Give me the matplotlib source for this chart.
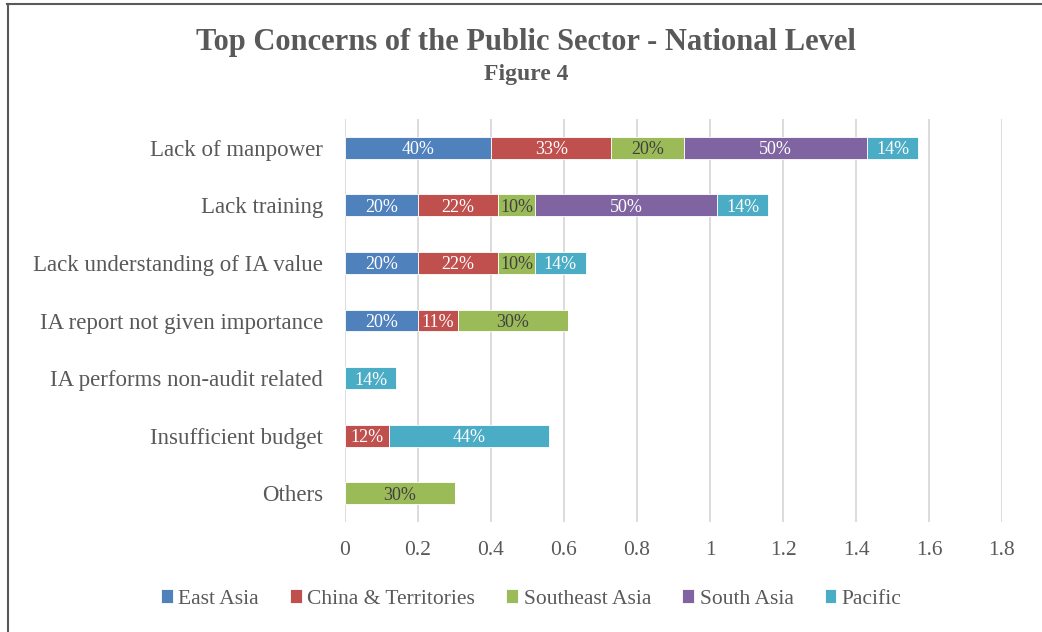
import matplotlib
matplotlib.use("Agg")
import matplotlib.pyplot as plt
from matplotlib.lines import Line2D
import numpy as np

categories = ["Lack of manpower", "Lack training", "Lack understanding of IA value",
              "IA report not given importance", "IA performs non-audit related",
              "Insufficient budget", "Others"]
series_names = ["East Asia", "China & Territories", "Southeast Asia", "South Asia", "Pacific"]
east_asia = [0.40, 0.20, 0.20, 0.20, 0.0, 0.0, 0.0]
china = [0.33, 0.22, 0.22, 0.11, 0.0, 0.12, 0.0]
southeast_asia = [0.20, 0.10, 0.10, 0.30, 0.0, 0.0, 0.30]
south_asia = [0.50, 0.50, 0.0, 0.0, 0.0, 0.0, 0.0]
pacific = [0.14, 0.14, 0.14, 0.0, 0.14, 0.44, 0.0]
x_ticks = [0, 0.2, 0.4, 0.6, 0.8, 1, 1.2, 1.4, 1.6, 1.8]
x_tick_labels = ["0", "0.2", "0.4", "0.6", "0.8", "1", "1.2", "1.4", "1.6", "1.8"]

colors = ["#4F81BD", "#C0504D", "#9BBB59", "#8064A2", "#4BACC6"]
label_colors = ["white", "white", "#404040", "white", "white"]
font = "Liberation Serif"
txt = "#595959"

fig = plt.figure(figsize=(10.42, 6.32), dpi=100)
ax = fig.add_axes([0.3311, 0.174, 0.6305, 0.6377])

y = np.arange(len(categories))
left = np.zeros(len(categories))
for vals, name, c, lc in zip([east_asia, china, southeast_asia, south_asia, pacific],
                             series_names, colors, label_colors):
    vals = np.array(vals)
    bars = ax.barh(y, vals, left=left, height=0.38, color=c, edgecolor="white",
                   linewidth=0.6, label=name, zorder=3)
    for b, v, l in zip(bars, vals, left):
        if v > 0:
            ax.text(l + v / 2, b.get_y() + b.get_height() / 2, f"{v*100:.0f}%",
                    ha="center", va="center_baseline", color=lc, fontsize=13,
                    family=font, zorder=4)
    left = left + vals

ax.set_xlim(0, 1.8)
ax.set_ylim(6.5, -0.5)
ax.set_xticks(x_ticks)
ax.set_xticklabels(x_tick_labels)
ax.set_yticks(y)
ax.set_yticklabels(categories)
ax.tick_params(axis="x", length=0, colors=txt, labelsize=15.5, pad=14)
ax.tick_params(axis="y", length=0, colors=txt, labelsize=16.5, pad=16)
for lab in ax.get_xticklabels() + ax.get_yticklabels():
    lab.set_family(font)
    lab.set_color(txt)
ax.grid(axis="x", color="#D9D9D9", linewidth=1.3, zorder=0)
for s in ax.spines.values():
    s.set_visible(False)

fig.text(0.505, 0.933, "Top Concerns of the Public Sector - National Level", ha="center",
         va="center", fontsize=22, fontweight="bold", color=txt, family=font)
fig.text(0.505, 0.882, "Figure 4", ha="center", va="center", fontsize=17,
         fontweight="bold", color=txt, family=font)

leg = fig.legend(loc="center", bbox_to_anchor=(0.51, 0.052), ncol=5, frameon=False,
                 prop={"family": font, "size": 15.5}, handlelength=0.55, handleheight=0.6,
                 handletextpad=0.25, columnspacing=1.45)
for t in leg.get_texts():
    t.set_color(txt)

fig.add_artist(Line2D([0.0072, 0.0072], [0, 0.994], transform=fig.transFigure,
                      color="#595959", linewidth=1.5))
fig.add_artist(Line2D([0.0065, 1.0], [0.9937, 0.9937], transform=fig.transFigure,
                      color="#595959", linewidth=1.5))

fig.savefig("out.png", dpi=100)
